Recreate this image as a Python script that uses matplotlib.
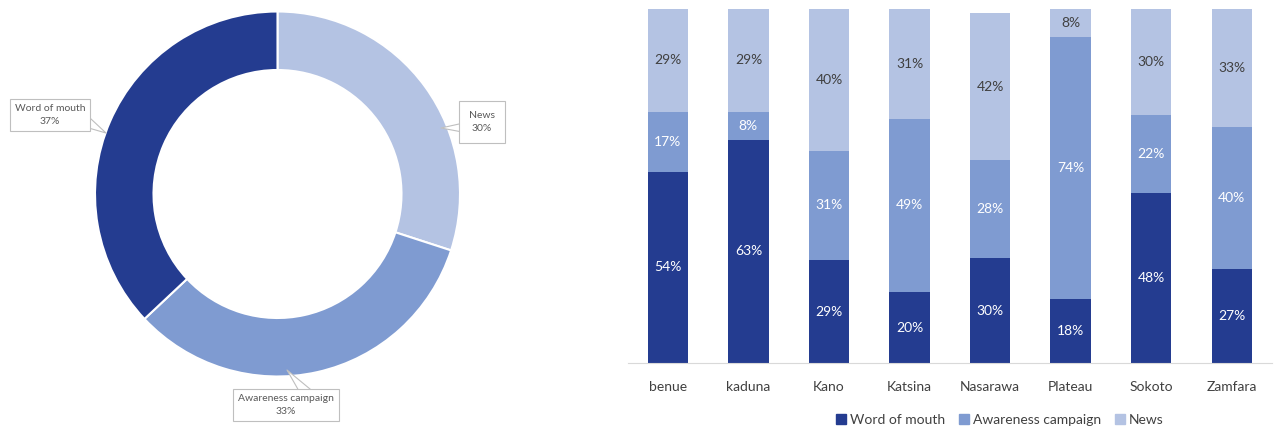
import matplotlib
matplotlib.use("Agg")
import matplotlib.pyplot as plt
from matplotlib.patches import Patch

plt.rcParams['font.family'] = ['Lato', 'DejaVu Sans']

# ---- data ----
pie_labels = ["News", "Awareness campaign", "Word of mouth"]
pie_values = [30, 33, 37]

states = ["benue", "kaduna", "Kano", "Katsina", "Nasarawa", "Plateau", "Sokoto", "Zamfara"]
word_of_mouth = [54, 63, 29, 20, 29.6, 18, 48, 26.6]
awareness = [17, 8, 31, 49, 27.7, 74, 22, 40]
news = [29, 29, 40, 31, 41.5, 8, 30, 33.4]

c_wom = "#243c90"
c_aw = "#7f9bd1"
c_news = "#b4c3e3"
txt = "#404040"

W, H = 1276, 428
fig = plt.figure(figsize=(W / 100, H / 100), dpi=100)

# ---- donut ----
cx, cy, R = 277.5, 194, 182.5
axp = fig.add_axes([0, 0, 0.45, 1])
axp.pie(pie_values, colors=[c_news, c_aw, c_wom], startangle=90, counterclock=False,
        radius=1, wedgeprops=dict(width=1 - 124 / 182.5, edgecolor="white", linewidth=1.5))
axw = 0.45 * W
axp.set_xlim((0 - cx) / R, (axw - cx) / R)
axp.set_ylim((cy - H) / R, cy / R)
axp.set_aspect('auto')
axp.axis('off')

def px(x, y):
    return ((x - cx) / R, (cy - y) / R)

callouts = [
    (f"{pie_labels[2]}\n{pie_values[2]}%", (106, 133), (50, 115), (1.0, 0.22), 0.5),
    (f"{pie_labels[0]}\n{pie_values[0]}%", (441, 128), (482, 122), (0.0, 0.25), 0.95),
    (f"{pie_labels[1]}\n{pie_values[1]}%", (287, 370), (286, 405), (0.72, 1.0), 0.5),
]
for text, tip, pos, rp, pad in callouts:
    bbox = dict(boxstyle=f"square,pad={pad}", fc="white", ec="#bfbfbf", lw=0.8)
    arrow = dict(arrowstyle="wedge,tail_width=1.1,shrink_factor=0.5", fc="white",
                 ec="#bfbfbf", lw=0.8, shrinkA=0, shrinkB=0, relpos=rp, patchA=None)
    axp.annotate(text, xy=px(*tip), xytext=px(*pos), ha="center", va="center",
                 fontsize=7.5, color="#595959", linespacing=1.6, bbox=bbox,
                 arrowprops=arrow, annotation_clip=False)

# ---- stacked bars ----
left = 627.6
axb = fig.add_axes([left / W, (H - 363) / H, (1272 - left) / W, 354 / H])
x = range(len(states))
bw = 0.5
b1 = axb.bar(x, word_of_mouth, bw, color=c_wom, label="Word of mouth")
bottom2 = word_of_mouth
b2 = axb.bar(x, awareness, bw, bottom=bottom2, color=c_aw, label="Awareness campaign")
bottom3 = [a + b for a, b in zip(word_of_mouth, awareness)]
b3 = axb.bar(x, news, bw, bottom=bottom3, color=c_news, label="News")

for bars, vals, col in [(b1, word_of_mouth, "white"), (b2, awareness, "white"), (b3, news, txt)]:
    for rect, v in zip(bars, vals):
        axb.text(rect.get_x() + rect.get_width() / 2, rect.get_y() + rect.get_height() / 2,
                 f"{round(v):d}%", ha="center", va="center", color=col, fontsize=10)

axb.set_xlim(-0.5, len(states) - 0.5)
axb.set_ylim(0, 100)
axb.set_xticks(list(x))
axb.set_xticklabels(states, fontsize=10, color=txt)
axb.tick_params(axis='x', length=0, pad=13)
axb.set_yticks([])
for s in ["top", "right", "left"]:
    axb.spines[s].set_visible(False)
axb.spines["bottom"].set_color("#d9d9d9")

handles = [Patch(color=c_wom), Patch(color=c_aw), Patch(color=c_news)]
fig.legend(handles, ["Word of mouth", "Awareness campaign", "News"], loc="center",
           bbox_to_anchor=(1000 / W, 1 - 420 / H), ncol=3, frameon=False, fontsize=10,
           handlelength=0.7, handleheight=0.7, handletextpad=0.3, columnspacing=1.0,
           labelcolor=txt)

fig.savefig("out.png", dpi=100)
